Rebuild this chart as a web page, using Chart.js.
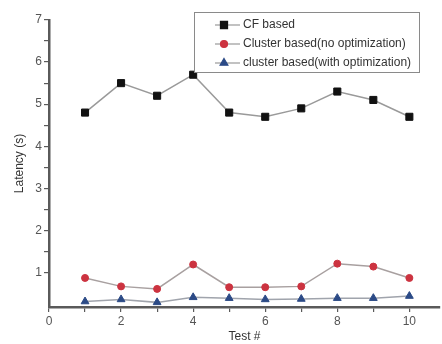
<!DOCTYPE html>
<html>
<head>
<meta charset="utf-8">
<script src="https://cdn.jsdelivr.net/npm/chart.js@4"></script>
<style>
    html, body { margin: 0; padding: 0; background: #fff; }
    #wrap { width: 442px; height: 344px; }
</style>
</head>
<body>
<div id="wrap"><canvas id="grafico" width="442" height="344"></canvas></div>
<script>
// =====================================
// DATOS
// =====================================

const pruebas = [1, 2, 3, 4, 5, 6, 7, 8, 9, 10];
const cfBased = [4.8, 5.5, 5.2, 5.7, 4.8, 4.7, 4.9, 5.3, 5.1, 4.7];
const clusterSinOpt = [0.87, 0.67, 0.61, 1.19, 0.65, 0.65, 0.67, 1.21, 1.14, 0.87];
const clusterConOpt = [0.31, 0.36, 0.29, 0.41, 0.39, 0.36, 0.37, 0.39, 0.39, 0.44];

const etiquetas = ["CF based", "Cluster based(no optimization)", "cluster based(with optimization)"];
const ticksX = [0, 1, 2, 3, 4, 5, 6, 7, 8, 9, 10];
const ticksY = [1, 1.5, 2, 2.5, 3, 3.5, 4, 4.5, 5, 5.5, 6, 6.5, 7];

const FUENTE = "'Liberation Sans', Arial, sans-serif";
const COLOR_EJE = "#5a5a5a";
const COLOR_TEXTO = "#555";

function puntos(valores) {
    return pruebas.map((x, i) => ({ x, y: valores[i] }));
}

// =====================================
// LEYENDA CON CAJA
// =====================================

const leyendaCaja = {
    id: "leyendaCaja",
    afterDraw(chart) {
        const ctx = chart.ctx;
        const x0 = 194, y0 = 12, w = 225, h = 60;
        ctx.save();
        ctx.fillStyle = "#fff";
        ctx.fillRect(x0, y0, w, h);
        ctx.strokeStyle = "#8a8a8a";
        ctx.lineWidth = 1;
        ctx.strokeRect(x0 + 0.5, y0 + 0.5, w, h);

        chart.data.datasets.forEach((ds, i) => {
            const y = y0 + 13 + i * 19;
            ctx.strokeStyle = "#999";
            ctx.lineWidth = 1.2;
            ctx.beginPath();
            ctx.moveTo(215, y);
            ctx.lineTo(240, y);
            ctx.stroke();
            ctx.fillStyle = ds.pointBackgroundColor;
            ctx.strokeStyle = ds.pointBorderColor;
            Chart.helpers.drawPoint(ctx, {
                pointStyle: ds.pointStyle,
                radius: ds.pointRadius,
                borderWidth: 1
            }, 224, y);

            ctx.fillStyle = "#333";
            ctx.font = "12px " + FUENTE;
            ctx.textBaseline = "middle";
            ctx.fillText(ds.label, 243, y);
        });
        ctx.restore();
    }
};

// =====================================
// GRAFICO
// =====================================

new Chart(document.getElementById("grafico"), {
    type: "line",
    data: {
        datasets: [
            {
                label: etiquetas[0],
                data: puntos(cfBased),
                borderColor: "#9a9a9a",
                borderWidth: 1.5,
                pointStyle: "rect",
                pointRadius: 5,
                pointBackgroundColor: "#111",
                pointBorderColor: "#111",
                pointBorderWidth: 1
            },
            {
                label: etiquetas[1],
                data: puntos(clusterSinOpt),
                borderColor: "#a8a0a0",
                borderWidth: 1.5,
                pointStyle: "circle",
                pointRadius: 3.5,
                pointBackgroundColor: "#cc3340",
                pointBorderColor: "#cc3340",
                pointBorderWidth: 1
            },
            {
                label: etiquetas[2],
                data: puntos(clusterConOpt),
                borderColor: "#a0a4ac",
                borderWidth: 1.5,
                pointStyle: "triangle",
                pointRadius: 4.5,
                pointBackgroundColor: "#2b4a86",
                pointBorderColor: "#2b4a86",
                pointBorderWidth: 1
            }
        ]
    },
    options: {
        responsive: false,
        animation: false,
        layout: { autoPadding: false, padding: { top: 20, right: 0, left: 4, bottom: 0 } },
        plugins: {
            legend: { display: false },
            tooltip: { enabled: false }
        },
        scales: {
            x: {
                type: "linear",
                min: 0,
                max: 10.85,
                // el ultimo tick (sin etiqueta ni marca) evita el margen derecho
                afterBuildTicks: s => {
                    s.ticks = ticksX.map(v => ({ value: v }));
                    s.ticks.push({ value: s.max });
                },
                afterFit: s => { s.height = 37; },
                border: { color: COLOR_EJE, width: 2.5 },
                grid: {
                    drawOnChartArea: false,
                    tickLength: 5,
                    lineWidth: 1.2,
                    color: c => (c.tick && c.tick.value > 10 ? "rgba(0,0,0,0)" : COLOR_EJE)
                },
                ticks: {
                    color: COLOR_TEXTO,
                    font: { family: FUENTE, size: 12 },
                    padding: 2,
                    maxRotation: 0,
                    autoSkip: false,
                    callback: v => (v % 2 === 0 ? String(v) : "")
                },
                title: {
                    display: true,
                    text: "Test #",
                    color: "#333",
                    font: { family: FUENTE, size: 12 },
                    padding: { top: 0, bottom: 0 }
                }
            },
            y: {
                min: 0.18,
                max: 7,
                afterBuildTicks: s => { s.ticks = ticksY.map(v => ({ value: v })); },
                afterFit: s => { s.width = 45; },
                border: { color: COLOR_EJE, width: 2.5 },
                grid: {
                    drawOnChartArea: false,
                    tickLength: 5,
                    color: COLOR_EJE,
                    lineWidth: 1.2
                },
                ticks: {
                    color: COLOR_TEXTO,
                    font: { family: FUENTE, size: 12 },
                    padding: 2,
                    autoSkip: false,
                    callback: v => (Number.isInteger(v) ? String(v) : "")
                },
                title: {
                    display: true,
                    text: "Latency (s)",
                    color: "#333",
                    font: { family: FUENTE, size: 12 },
                    padding: { top: 8, bottom: 0 }
                }
            }
        }
    },
    plugins: [leyendaCaja]
});
</script>
</body>
</html>
